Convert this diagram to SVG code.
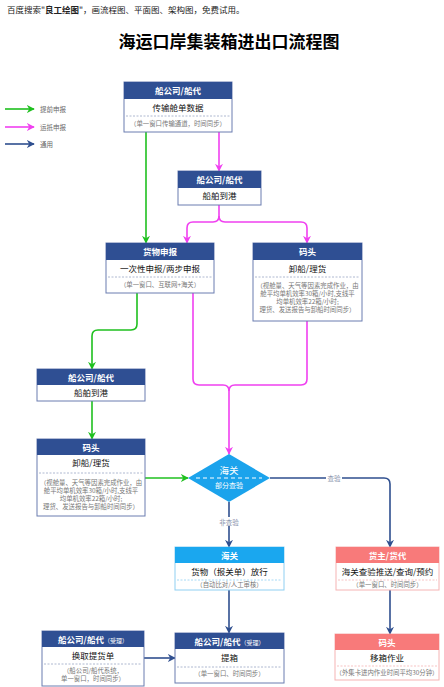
<svg xmlns="http://www.w3.org/2000/svg" width="444" height="687" viewBox="0 0 444 687">
<style>
text{font-family:"Noto Sans CJK SC","Noto Sans",sans-serif;}
.hd{fill:#fff;font-size:8.5px;font-weight:bold;text-anchor:middle;}
.hds{fill:#fff;font-size:6px;}
.bd{fill:#111;font-size:8.5px;text-anchor:middle;}
.sm{fill:#777;font-size:6.4px;text-anchor:middle;}
.bn{fill:#fff;stroke:#6a7db0;stroke-width:1;}
.bb{fill:#fff;stroke:#8fcff2;stroke-width:1;}
.bp{fill:#fff;stroke:#f5b4b4;stroke-width:1;}
.hn{fill:#2f4f93;}
.hb{fill:#1aa7ef;}
.hp{fill:#f87a7a;}
.sep{stroke:#9aa6c4;stroke-width:0.8;stroke-dasharray:2 1.5;}
.sepb{stroke:#8fcff2;stroke-width:0.8;stroke-dasharray:2 1.5;}
.sepp{stroke:#f5b4b4;stroke-width:0.8;stroke-dasharray:2 1.5;}
.g{fill:none;stroke:#1fc01f;stroke-width:1.6;}
.m{fill:none;stroke:#f040f0;stroke-width:1.6;}
.n{fill:none;stroke:#2f4f8f;stroke-width:1.6;}
.lbl{fill:#8a94ad;font-size:6.5px;text-anchor:middle;}
.leg{fill:#666;font-size:6.5px;}
</style>
<defs>
<marker id="ag" viewBox="0 0 10 10" refX="9" refY="5" markerWidth="5" markerHeight="5" orient="auto" markerUnits="strokeWidth"><path d="M0,0 L10,5 L0,10 L3,5 Z" fill="#1fc01f"/></marker>
<marker id="am" viewBox="0 0 10 10" refX="9" refY="5" markerWidth="5" markerHeight="5" orient="auto" markerUnits="strokeWidth"><path d="M0,0 L10,5 L0,10 L3,5 Z" fill="#f040f0"/></marker>
<marker id="an" viewBox="0 0 10 10" refX="9" refY="5" markerWidth="5" markerHeight="5" orient="auto" markerUnits="strokeWidth"><path d="M0,0 L10,5 L0,10 L3,5 Z" fill="#2f4f8f"/></marker>
</defs>
<rect width="444" height="687" fill="#fff"/>
<text x="7" y="13" style="font-size:8.5px;fill:#222">百度搜索"<tspan font-weight="bold">良工绘图</tspan>"，画流程图、平面图、架构图，免费试用。</text>
<text x="229" y="48" style="font-size:17px;font-weight:bold;fill:#000;text-anchor:middle">海运口岸集装箱进出口流程图</text>

<g id="legend">
<line class="g" x1="5" y1="109" x2="34" y2="109" marker-end="url(#ag)"/>
<text class="leg" x="40" y="111.5">提前申报</text>
<line class="m" x1="5" y1="127" x2="34" y2="127" marker-end="url(#am)"/>
<text class="leg" x="40" y="129.5">运抵申报</text>
<line class="n" x1="5" y1="144" x2="34" y2="144" marker-end="url(#an)"/>
<text class="leg" x="40" y="146.5">通用</text>
</g>

<g id="connectors">
<path class="g" d="M146,132 V243" marker-end="url(#ag)"/>
<path class="m" d="M219,132 V171" marker-end="url(#am)"/>
<path class="m" d="M219,205 V216 Q219,222 213,222 H193 Q187,222 187,228 V243" marker-end="url(#am)"/>
<path class="m" d="M219,216 Q219,222 225,222 H301 Q307,222 307,228 V243" marker-end="url(#am)"/>
<path class="g" d="M137,293 V324 Q137,330 131,330 H98 Q92,330 92,336 V369" marker-end="url(#ag)"/>
<path class="m" d="M193,293 V379 Q193,385 199,385 H223 Q229,385 229,391 V454" marker-end="url(#am)"/>
<path class="m" d="M307,321 V379 Q307,385 301,385 H235 Q229,385 229,391"/>
<path class="g" d="M92,401 V439" marker-end="url(#ag)"/>
<path class="g" d="M145,478 H188" marker-end="url(#ag)"/>
<path class="n" d="M270,478 H384 Q390,478 390,484 V547" marker-end="url(#an)"/>
<rect x="326" y="473" width="16" height="9" fill="#fff"/>
<text class="lbl" x="334" y="480.5">查验</text>
<path class="n" d="M229,502 V547" marker-end="url(#an)"/>
<rect x="218" y="517" width="22" height="9" fill="#fff"/>
<text class="lbl" x="229" y="524.5">非查验</text>
<path class="n" d="M229,590 V633" marker-end="url(#an)"/>
<path class="n" d="M390,590 V634" marker-end="url(#an)"/>
<path class="n" d="M144,658 H175" marker-end="url(#an)"/>
</g>

<g id="n1">
<rect class="bn" x="124" y="82" width="108" height="50"/>
<rect class="hn" x="124" y="82" width="108" height="17"/>
<text class="hd" x="178" y="94">船公司/船代</text>
<text class="bd" x="178" y="111">传输舱单数据</text>
<line class="sep" x1="126" y1="116" x2="230" y2="116"/>
<text class="sm" x="178" y="126">（单一窗口传输通道，时间同步）</text>
</g>

<g id="n2">
<rect class="bn" x="178" y="171" width="83" height="34"/>
<rect class="hn" x="178" y="171" width="83" height="17"/>
<text class="hd" x="219.5" y="183">船公司/船代</text>
<text class="bd" x="219.5" y="199">船舶到港</text>
</g>

<g id="n3">
<rect class="bn" x="106" y="243" width="108" height="50"/>
<rect class="hn" x="106" y="243" width="108" height="17"/>
<text class="hd" x="160" y="255">货物申报</text>
<text class="bd" x="160" y="272">一次性申报/两步申报</text>
<line class="sep" x1="108" y1="277" x2="212" y2="277"/>
<text class="sm" x="160" y="287">（单一窗口、互联网+海关）</text>
</g>

<g id="n4">
<rect class="bn" x="253" y="243" width="109" height="78"/>
<rect class="hn" x="253" y="243" width="109" height="17"/>
<text class="hd" x="307.5" y="255">码头</text>
<text class="bd" x="307.5" y="272">卸船/理货</text>
<line class="sep" x1="255" y1="277" x2="360" y2="277"/>
<text class="sm" x="307.5" y="288">（视舱量、天气等因素完成作业，由</text>
<text class="sm" x="307.5" y="296">舱平均单机效率30箱/小时,支线平</text>
<text class="sm" x="307.5" y="304">均单机效率22箱/小时;</text>
<text class="sm" x="307.5" y="312">理货、发送报告与卸船时间同步）</text>
</g>

<g id="n5">
<rect class="bn" x="37" y="369" width="108" height="32"/>
<rect class="hn" x="37" y="369" width="108" height="16"/>
<text class="hd" x="91" y="380.5">船公司/船代</text>
<text class="bd" x="91" y="396">船舶到港</text>
</g>

<g id="n6">
<rect class="bn" x="37" y="439" width="108" height="77"/>
<rect class="hn" x="37" y="439" width="108" height="16"/>
<text class="hd" x="91" y="450.5">码头</text>
<text class="bd" x="91" y="466">卸船/理货</text>
<line class="sep" x1="39" y1="473" x2="143" y2="473"/>
<text class="sm" x="91" y="485">（视舱量、天气等因素完成作业，由</text>
<text class="sm" x="91" y="493">舱平均单机效率30箱/小时,支线平</text>
<text class="sm" x="91" y="501">均单机效率22箱/小时;</text>
<text class="sm" x="91" y="509">理货、发送报告与卸船时间同步）</text>
</g>

<g id="n7">
<polygon points="229,454 270,478 229,502 188,478" fill="#1ba3ec"/>
<line x1="196" y1="478" x2="262" y2="478" stroke="#fff" stroke-width="1.2" stroke-dasharray="4 3"/>
<text x="229" y="474" style="fill:#fff;font-size:9.5px;text-anchor:middle">海关</text>
<text x="229" y="488" style="fill:#fff;font-size:7px;text-anchor:middle">部分查验</text>
</g>

<g id="n8">
<rect class="bb" x="175" y="547" width="109" height="43"/>
<rect class="hb" x="175" y="547" width="109" height="16"/>
<text class="hd" x="229.5" y="558.5">海关</text>
<text class="bd" x="229.5" y="575">货物（报关单）放行</text>
<line class="sepb" x1="177" y1="580" x2="282" y2="580"/>
<text class="sm" x="229.5" y="586.5">（自动比对/人工审核）</text>
</g>

<g id="n9">
<rect class="bp" x="336" y="547" width="103" height="43"/>
<rect class="hp" x="336" y="547" width="103" height="16"/>
<text class="hd" x="387.5" y="558.5">货主/货代</text>
<text class="bd" x="387.5" y="575">海关查验推送/查询/预约</text>
<line class="sepp" x1="338" y1="580" x2="437" y2="580"/>
<text class="sm" x="387.5" y="586.5">（单一窗口、时间同步）</text>
</g>

<g id="n10">
<rect class="bn" x="42" y="631" width="102" height="55"/>
<rect class="hn" x="42" y="631" width="102" height="16"/>
<text class="hd" x="93" y="642.5">船公司/船代<tspan class="hds" font-weight="normal">（受理）</tspan></text>
<text class="bd" x="93" y="659">换取提货单</text>
<line class="sep" x1="44" y1="664" x2="142" y2="664"/>
<text class="sm" x="93" y="673">（船公司/船代系统，</text>
<text class="sm" x="93" y="681">单一窗口，时间同步）</text>
</g>

<g id="n11">
<rect class="bn" x="175" y="633" width="109" height="50"/>
<rect class="hn" x="175" y="633" width="109" height="16"/>
<text class="hd" x="229.5" y="644.5">船公司/船代<tspan class="hds" font-weight="normal">（受理）</tspan></text>
<text class="bd" x="229.5" y="661">提箱</text>
<line class="sep" x1="177" y1="667" x2="282" y2="667"/>
<text class="sm" x="229.5" y="676">（单一窗口、时间同步）</text>
</g>

<g id="n12">
<rect class="bp" x="335" y="634" width="104" height="46"/>
<rect class="hp" x="335" y="634" width="104" height="16"/>
<text class="hd" x="387" y="645.5">码头</text>
<text class="bd" x="387" y="661">移箱作业</text>
<line class="sepp" x1="337" y1="666" x2="437" y2="666"/>
<text class="sm" x="387" y="675">（外集卡进内作业时间平均30分钟）</text>
</g>
</svg>
